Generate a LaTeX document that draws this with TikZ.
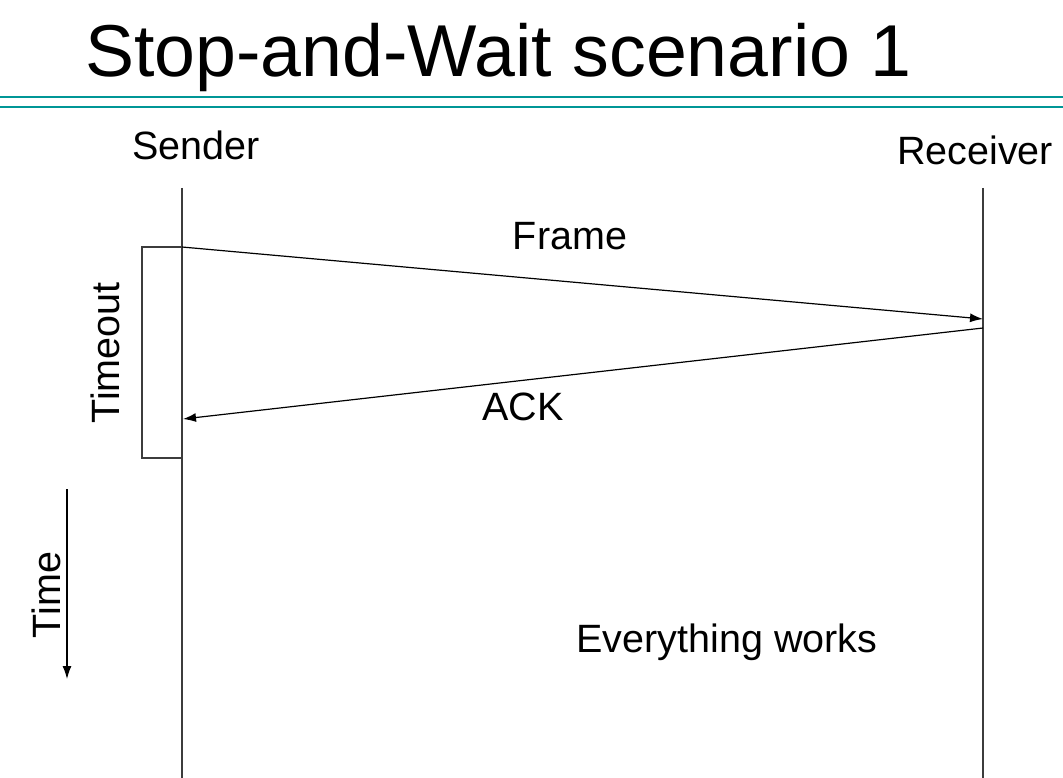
\documentclass[tikz,border=0pt]{standalone}
\usepackage{fontspec}
\setmainfont{Liberation Sans}
\usetikzlibrary{arrows.meta}
\definecolor{teal1}{RGB}{0,150,150}
\definecolor{lifegray}{RGB}{60,60,60}
\begin{document}
\begin{tikzpicture}[x=1pt,y=-1pt,
  lbl/.style={font=\fontsize{39.5}{44}\selectfont, inner sep=0pt, anchor=base},
  life/.style={draw=lifegray, line width=1.2pt},
  msg/.style={draw=black, line width=1.2pt, -{Latex[length=13pt,width=9pt]}},
  rule/.style={draw=teal1, line width=2pt}]
\useasboundingbox (0,0) rectangle (1063,778);
% title
\node[lbl, font=\fontsize{73.5}{80}\selectfont, anchor=base west] (title) at (85,77) {Stop-and-Wait scenario 1};
\coordinate (r1a) at (0,97.5); \coordinate (r1b) at (1063,97.5);
\coordinate (r2a) at (0,107.5); \coordinate (r2b) at (1063,107.5);
\draw[rule] (r1a) -- (r1b);
\draw[rule] (r2a) -- (r2b);
% participants
\node[lbl] (sender) at (196,160) {Sender};
\node[lbl] (receiver) at (975,165) {Receiver};
\coordinate (s0) at (182,188); \coordinate (s1) at (182,778);
\coordinate (r0) at (983,188); \coordinate (r1) at (983,778);
\draw[life] (s0) -- (s1);
\draw[life] (r0) -- (r1);
% messages
\coordinate (fs) at (182,247); \coordinate (fe) at (983,319);
\coordinate (as) at (983,328); \coordinate (ae) at (183,419);
\draw[msg] (fs) -- (fe);
\draw[msg] (as) -- (ae);
\node[lbl] (frame) at (570,250) {Frame};
\node[lbl] (ack) at (523,420) {ACK};
% timeout box
\coordinate (tb1) at (182,247); \coordinate (tb2) at (142,247);
\coordinate (tb3) at (142,458); \coordinate (tb4) at (182,458);
\draw[draw=lifegray, line width=1.2pt] (tb1) -- (tb2) -- (tb3) -- (tb4);
\node[lbl, rotate=90] (timeout) at (119,353) {Timeout};
% time arrow
\coordinate (t0) at (67,489); \coordinate (t1) at (67,679);
\draw[msg] (t0) -- (t1);
\node[lbl, rotate=90] (time) at (60,595) {Time};
\node[lbl] (works) at (727,652) {Everything works};
\end{tikzpicture}
\end{document}
